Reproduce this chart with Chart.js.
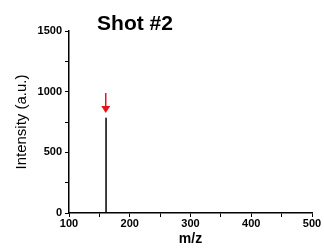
<!DOCTYPE html>
<html>
<head>
<meta charset="utf-8">
<script src="https://cdn.jsdelivr.net/npm/chart.js@4"></script>
<style>
  html, body { margin: 0; padding: 0; background: #fff; }
  #wrap { width: 324px; height: 248px; }
</style>
</head>
<body>
<div id="wrap"><canvas id="spectrumChart" width="324" height="248"></canvas></div>
<script>
// Spectrum values (m/z, intensity)
const mzValues = [100, 161, 161, 161, 190, 190, 190, 500];
const intensityValues = [0, 0, 785, 0, 0, 6, 0, 0];

// Red marker arrow above the peak (m/z, start intensity, tip intensity)
const arrowMz = 160.5;
const arrowFrom = 990;
const arrowTo = 825;

const titleText = 'Shot #2';
const fontFamily = '"Liberation Sans", Arial, sans-serif';

// Title sits left of centre, above the plot
const titlePlugin = {
    id: 'shotTitle',
    afterDraw(chart) {
        const ctx = chart.ctx;
        ctx.save();
        ctx.font = 'bold 21px ' + fontFamily;
        ctx.fillStyle = '#000';
        ctx.textAlign = 'center';
        ctx.textBaseline = 'alphabetic';
        ctx.fillText(titleText, chart.chartArea.left + 66, 30);
        ctx.restore();
    }
};

// Arrow drawn through the scales
const arrowPlugin = {
    id: 'peakArrow',
    afterDatasetsDraw(chart) {
        const { ctx, scales: { x, y } } = chart;
        const px = x.getPixelForValue(arrowMz);
        const top = y.getPixelForValue(arrowFrom);
        const tip = y.getPixelForValue(arrowTo);
        ctx.save();
        ctx.strokeStyle = '#e8141b';
        ctx.fillStyle = '#e8141b';
        ctx.lineWidth = 1.5;
        ctx.beginPath();
        ctx.moveTo(px, top);
        ctx.lineTo(px, tip - 5);
        ctx.stroke();
        ctx.beginPath();
        ctx.moveTo(px - 4.5, tip - 7);
        ctx.lineTo(px + 4.5, tip - 7);
        ctx.lineTo(px, tip);
        ctx.closePath();
        ctx.fill();
        ctx.restore();
    }
};

const ctx = document.getElementById('spectrumChart').getContext('2d');
new Chart(ctx, {
    type: 'scatter',
    data: {
        datasets: [{
            data: mzValues.map((m, i) => ({ x: m, y: intensityValues[i] })),
            showLine: true,
            borderColor: '#000',
            borderWidth: 1,
            pointRadius: 0,
            tension: 0
        }]
    },
    options: {
        responsive: false,
        animation: false,
        devicePixelRatio: 1,
        layout: { padding: { top: 31, right: 12, left: 0, bottom: 0 } },
        plugins: {
            legend: { display: false },
            tooltip: { enabled: false }
        },
        scales: {
            x: {
                type: 'linear',
                min: 100,
                max: 500,
                afterFit: (scale) => { scale.height = 35; },
                border: { color: '#000', width: 1.5 },
                grid: { drawOnChartArea: false, tickLength: 4, color: '#000', tickColor: '#000' },
                ticks: {
                    stepSize: 50,
                    padding: 0,
                    maxRotation: 0,
                    color: '#000',
                    font: { family: fontFamily, size: 11, weight: 'bold' },
                    callback: (v) => (v % 100 === 0 ? v : '')
                },
                title: {
                    display: true,
                    text: 'm/z',
                    color: '#000',
                    font: { family: fontFamily, size: 14, weight: 'bold' },
                    padding: { top: 0, bottom: 0 }
                }
            },
            y: {
                min: 0,
                max: 1500,
                afterFit: (scale) => { scale.width = 69; },
                border: { color: '#000', width: 1.5 },
                grid: { drawOnChartArea: false, tickLength: 4, color: '#000', tickColor: '#000' },
                ticks: {
                    stepSize: 250,
                    padding: 3,
                    color: '#000',
                    font: { family: fontFamily, size: 11, weight: 'bold' },
                    callback: (v) => (v % 500 === 0 ? v : '')
                },
                title: {
                    display: true,
                    text: 'Intensity (a.u.)',
                    color: '#000',
                    font: { family: fontFamily, size: 15 },
                    padding: { top: 13, bottom: 0 }
                }
            }
        }
    },
    plugins: [titlePlugin, arrowPlugin]
});
</script>
</body>
</html>
